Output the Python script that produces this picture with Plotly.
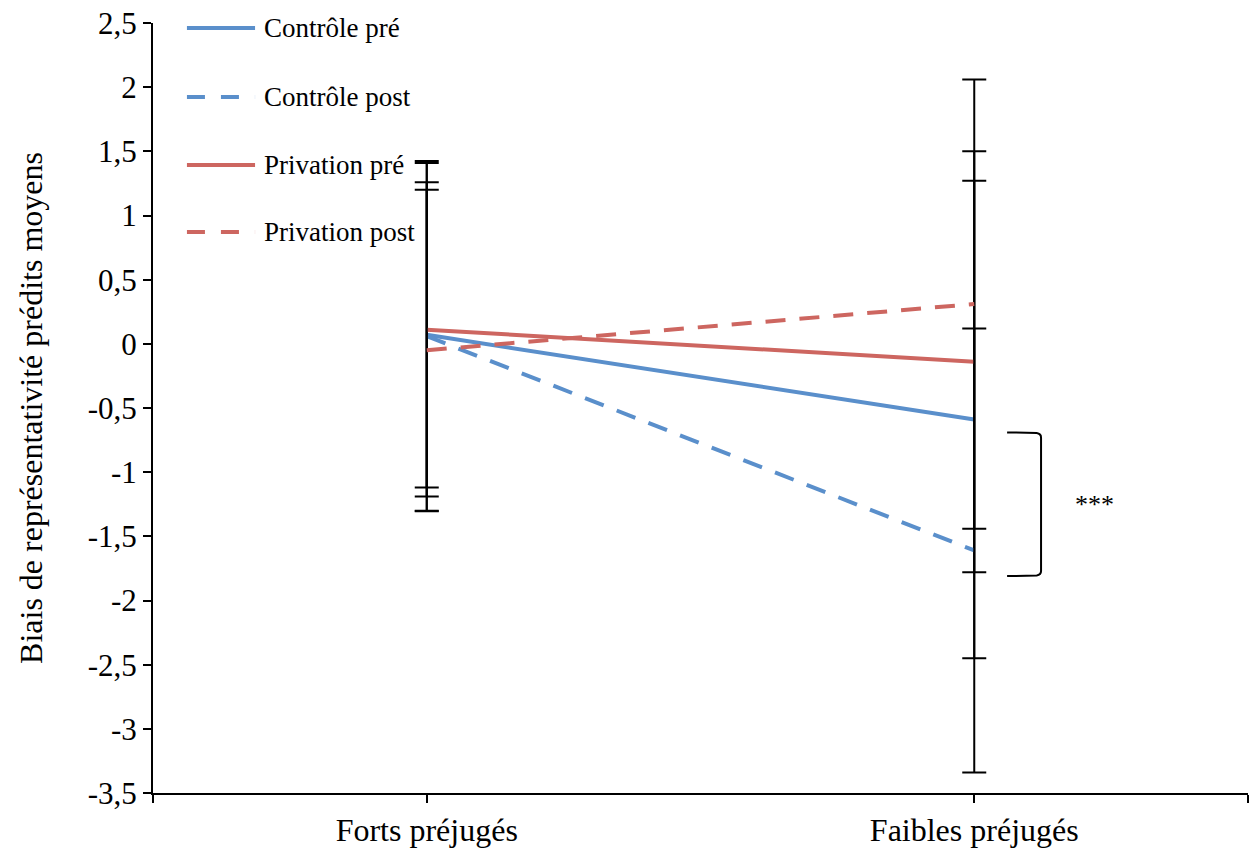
import plotly.graph_objects as go

categories = ["Forts préjugés", "Faibles préjugés"]
x_pos = [0, 1]

series_names = ["Contrôle pré", "Contrôle post", "Privation pré", "Privation post"]
controle_pre = [0.07, -0.59]
controle_post = [0.06, -1.61]
privation_pre = [0.11, -0.14]
privation_post = [-0.05, 0.31]

err_controle_pre = [1.19, 1.86]
err_controle_post = [1.365, 1.73]
err_privation_pre = [1.30, 1.64]
err_privation_post = [1.25, 1.75]

y_ticks = [2.5, 2, 1.5, 1, 0.5, 0, -0.5, -1, -1.5, -2, -2.5, -3, -3.5]
y_tick_text = ["2,5", "2", "1,5", "1", "0,5", "0", "-0,5", "-1", "-1,5", "-2", "-2,5", "-3", "-3,5"]

BLUE = "#5A8FCB"
RED = "#CD6660"
FONT = "Liberation Serif"

values = [controle_pre, controle_post, privation_pre, privation_post]
errors = [err_controle_pre, err_controle_post, err_privation_pre, err_privation_post]
colors = [BLUE, BLUE, RED, RED]
dashes = ["solid", "20px,14px", "solid", "20px,14px"]

fig = go.Figure()
for name, vals, errs, col, dsh in zip(series_names, values, errors, colors, dashes):
    fig.add_trace(go.Scatter(
        x=x_pos, y=vals, name=name, mode="lines",
        line=dict(color=col, width=4, dash=dsh),
        error_y=dict(type="data", array=errs, visible=True, color="black", thickness=2, width=12),
        showlegend=False,
    ))

# legend drawn manually (long line samples as in the reference)
legend_y = [0.9935, 0.9039, 0.8156, 0.7286]
lx0, lx1, ltx = 0.031, 0.0932, 0.0995
for name, col, dsh, ly in zip(series_names, colors, dashes, legend_y):
    fig.add_shape(type="line", xref="paper", yref="paper", x0=lx0, x1=lx1, y0=ly, y1=ly,
                  line=dict(color=col, width=4, dash=("solid" if dsh == "solid" else "18px,16px")))
    fig.add_annotation(xref="paper", yref="paper", x=ltx, y=ly, text=name, showarrow=False,
                       xanchor="left", yanchor="middle",
                       font=dict(family=FONT, size=27, color="black"))

# significance bracket
bx0, bx1 = 1.06, 1.122
by0, by1 = -0.69, -1.81
fig.add_shape(type="path",
              path=f"M {bx0},{by0} L {bx1-0.008},{by0-0.005} Q {bx1},{by0-0.01} {bx1},{by0-0.04} "
                   f"L {bx1},{by1+0.04} Q {bx1},{by1+0.01} {bx1-0.008},{by1+0.005} L {bx0},{by1}",
              xref="x", yref="y", line=dict(color="black", width=2))
fig.add_annotation(x=1.22, y=-1.25, xref="x", yref="y", text="***", showarrow=False,
                   font=dict(family=FONT, size=26, color="black"))

fig.update_layout(
    width=1259, height=850,
    margin=dict(l=145, r=19, t=15, b=65, autoexpand=False),
    paper_bgcolor="white", plot_bgcolor="white",
    font=dict(family=FONT, size=32, color="black"),
    showlegend=False,
    xaxis=dict(range=[-0.5, 1.5], tickvals=[-0.5, 0, 1, 1.5], ticktext=[""] + categories + [""],
               showgrid=False, zeroline=False, showline=True, linecolor="black", linewidth=2,
               ticks="outside", ticklen=8, tickwidth=2, tickcolor="black", automargin=False,
               ticklabeloverflow="allow",
               tickfont=dict(family=FONT, size=32)),
    yaxis=dict(range=[-3.5, 2.5], tickvals=y_ticks, ticktext=y_tick_text,
               showgrid=False, zeroline=False, showline=True, linecolor="black", linewidth=2,
               ticks="outside", ticklen=8, tickwidth=2, tickcolor="black", automargin=False,
               ticklabeloverflow="allow",
               tickfont=dict(family=FONT, size=31),
               title=dict(text="Biais de représentativité prédits moyens", font=dict(family=FONT, size=32),
                          standoff=36)),
)

fig.write_html("out.html")
